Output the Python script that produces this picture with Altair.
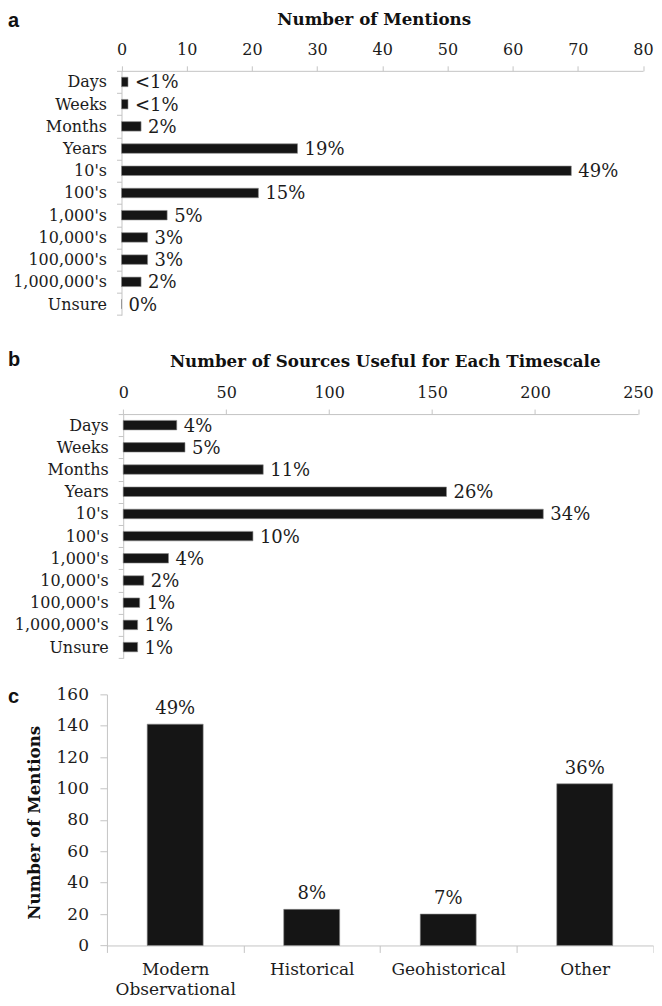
import altair as alt
import pandas as pd

# ---------------- data ----------------
timescales = ["Days", "Weeks", "Months", "Years", "10's", "100's", "1,000's",
              "10,000's", "100,000's", "1,000,000's", "Unsure"]
mentions_a = [1, 1, 3, 27, 69, 21, 7, 4, 4, 3, 0]
pct_a = ["<1%", "<1%", "2%", "19%", "49%", "15%", "5%", "3%", "3%", "2%", "0%"]

sources_b = [26, 30, 68, 157, 204, 63, 22, 10, 8, 7, 7]
pct_b = ["4%", "5%", "11%", "26%", "34%", "10%", "4%", "2%", "1%", "1%", "1%"]

source_types = ["Modern Observational", "Historical", "Geohistorical", "Other"]
mentions_c = [141, 23, 20, 103]
pct_c = ["49%", "8%", "7%", "36%"]

ticks_a = [0, 10, 20, 30, 40, 50, 60, 70, 80]
ticks_b = [0, 50, 100, 150, 200, 250]
ticks_c = [0, 20, 40, 60, 80, 100, 120, 140, 160]

title_a = "Number of Mentions"
title_b = "Number of Sources Useful for Each Timescale"
title_c = "Number of Mentions"

# ---------------- style ----------------
SERIF = "DejaVu Serif"
SANS = "Liberation Sans"
GREY = "#c4c4c4"
BAR = "#151515"
BAR_EDGE = "#8c8c8c"
TXT = "#1c1c1c"
PANEL_W = 546.5


def hbar_panel(letter, title, values, labels, ticks, xmax, x_range, y_offset,
               band_h, panel_h, title_x, title_y, tag_y):
    df = pd.DataFrame({"cat": timescales, "value": values, "label": labels})
    y = alt.Y("cat:N", sort=timescales,
              scale=alt.Scale(paddingInner=0, paddingOuter=0, range=[0, band_h]),
              axis=alt.Axis(title=None, orient="left", offset=y_offset, tickSize=5,
                            labelPadding=10, tickBand="extent", labelOverlap=False))
    x = alt.X("value:Q",
              scale=alt.Scale(domain=[0, xmax], range=x_range, nice=False),
              axis=alt.Axis(orient="top", values=ticks, tickCount=len(ticks) + 2,
                            title=title, tickSize=5,
                            labelPadding=11.5, labelBaseline="alphabetic",
                            labelFlush=False, labelOverlap=False,
                            titleX=title_x, titleY=title_y,
                            titleBaseline="alphabetic", titleAlign="center"))
    bars = alt.Chart(df).mark_bar(size=9.5, fill=BAR, stroke=BAR_EDGE,
                                  strokeWidth=0.6).encode(x=x, y=y)
    text = alt.Chart(df).mark_text(align="left", baseline="middle", dx=7, dy=1.5,
                                   font=SERIF, fontSize=18, color=TXT).encode(
        x="value:Q", y=alt.Y("cat:N", sort=timescales), text="label:N")
    tag = alt.Chart(pd.DataFrame({"t": [letter]})).mark_text(
        align="left", baseline="alphabetic", font=SANS, fontSize=20,
        fontWeight="bold", color="#111").encode(
        x=alt.value(-99), y=alt.value(tag_y), text="t:N")
    return alt.layer(bars, text, tag).properties(width=PANEL_W, height=panel_h)


panel_a = hbar_panel("a", title_a, mentions_a, pct_a, ticks_a, 80,
                     [14.6, 536.5], -14.6, 244.5, 256.2, 267, -46, -43.5)
panel_b = hbar_panel("b", title_b, sources_b, pct_b, ticks_b, 250,
                     [16.3, 531.5], -16.3, 244.3, 248.5, 278, -48, -48)

df_c = pd.DataFrame({"type": source_types, "value": mentions_c, "label": pct_c})
xc = alt.X("type:N", sort=source_types,
           scale=alt.Scale(paddingInner=0, paddingOuter=0),
           axis=alt.Axis(title=None, labelAngle=0, tickSize=7, labelPadding=22.5,
                         labelBaseline="alphabetic", labelLineHeight=20,
                         labelFontSize=17,
                         tickBand="extent", labelOverlap=False,
                         labelExpr="datum.label == 'Modern Observational' ? ['Modern', 'Observational'] : datum.label"))
yc = alt.Y("value:Q", scale=alt.Scale(domain=[0, 160], nice=False),
           axis=alt.Axis(values=ticks_c, tickCount=20, title=title_c, tickSize=7,
                         labelPadding=11.5,
                         labelFontSize=17, labelOverlap=False, labelFlush=False,
                         titleX=-72, titleY=128, titleBaseline="middle",
                         titleAlign="center", titleAngle=270))
bars_c = alt.Chart(df_c).mark_bar(size=56, fill=BAR, stroke=BAR_EDGE,
                                  strokeWidth=0.6).encode(x=xc, y=yc)
text_c = alt.Chart(df_c).mark_text(baseline="alphabetic", dy=-10, font=SERIF,
                                   fontSize=18, color=TXT).encode(
    x=alt.X("type:N", sort=source_types), y="value:Q", text="label:N")
tag_c = alt.Chart(pd.DataFrame({"t": ["c"]})).mark_text(
    align="left", baseline="alphabetic", font=SANS, fontSize=20,
    fontWeight="bold", color="#111").encode(
    x=alt.value(-99), y=alt.value(9), text="t:N")
panel_c = alt.layer(bars_c, text_c, tag_c).properties(width=PANEL_W, height=251.3)

chart = alt.vconcat(panel_a, panel_b, panel_c, spacing=22.5).properties(
    padding={"left": 0, "top": 2.5, "right": 0, "bottom": 1}
).configure_view(stroke=None).configure_axis(
    domainColor=GREY, tickColor=GREY, grid=False,
    labelFont=SERIF, labelFontSize=16, labelColor=TXT,
    titleFont=SERIF, titleFontSize=16.7, titleFontWeight="bold", titleColor="#111"
)

chart.save("out.html", embed_options={"renderer": "svg", "actions": False})
